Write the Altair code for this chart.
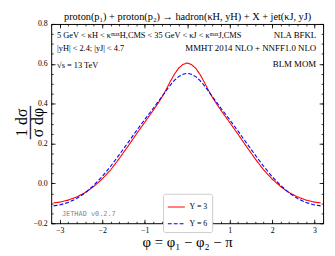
import altair as alt
import pandas as pd

phi = [-3.1416, -3.0, -2.8, -2.6, -2.4, -2.2, -2.0, -1.8, -1.6, -1.4, -1.2, -1.0,
       -0.9, -0.8, -0.7, -0.6, -0.5, -0.4, -0.3, -0.2, -0.1, 0.0,
       0.1, 0.2, 0.3, 0.4, 0.5, 0.6, 0.7, 0.8, 0.9, 1.0,
       1.2, 1.4, 1.6, 1.8, 2.0, 2.2, 2.4, 2.6, 2.8, 3.0, 3.1416]
y3 = [-0.098, -0.094, -0.084, -0.068, -0.046, -0.016, 0.022, 0.068, 0.124, 0.184, 0.246, 0.306,
      0.336, 0.366, 0.397, 0.430, 0.468, 0.510, 0.548, 0.578, 0.597, 0.604,
      0.597, 0.578, 0.548, 0.510, 0.468, 0.430, 0.397, 0.366, 0.336, 0.306,
      0.246, 0.184, 0.124, 0.068, 0.022, -0.016, -0.046, -0.068, -0.084, -0.094, -0.098]
y6 = [-0.113, -0.108, -0.096, -0.076, -0.048, -0.010, 0.034, 0.086, 0.143, 0.202, 0.262, 0.320,
      0.348, 0.376, 0.405, 0.434, 0.463, 0.492, 0.517, 0.536, 0.548, 0.552,
      0.548, 0.536, 0.517, 0.492, 0.463, 0.434, 0.405, 0.376, 0.348, 0.320,
      0.262, 0.202, 0.143, 0.086, 0.034, -0.010, -0.048, -0.076, -0.096, -0.108, -0.113]
series_names = ["Y = 3", "Y = 6"]
series_colors = ["#ff0000", "#0000ff"]

x_major = [-3, -2, -1, 0, 1, 2, 3]
x_minor = [round(-3.2 + 0.2 * i, 1) for i in range(33)]
y_major = [-0.2, 0.0, 0.2, 0.4, 0.6, 0.8]
y_minor = [round(-0.2 + 0.05 * i, 2) for i in range(21)]

title_text = "proton(p\u2081) + proton(p\u2082) \u2192 hadron(\u03baH, yH) + X + jet(\u03baJ, yJ)"
left_notes = ["5 GeV < \u03baH < \u03ba\u1d50\u1d43\u02e3H,CMS < 35 GeV < \u03baJ < \u03ba\u1d50\u1d43\u02e3J,CMS",
              "|yH| < 2.4;   |yJ| < 4.7",
              "\u221as = 13 TeV"]
right_notes = ["NLA BFKL", "MMHT 2014 NLO + NNFF1.0 NLO", "BLM MOM"]
watermark = "JETHAD v0.2.7"

rows = []
for name, vals in zip(series_names, [y3, y6]):
    for p, v in zip(phi, vals):
        rows.append({"phi": p, "val": v, "series": name})
df = pd.DataFrame(rows)

SERIF = "Liberation Serif, DejaVu Serif, serif"
xs = alt.Scale(domain=[-3.2, 3.2], nice=False, zero=False)
ys = alt.Scale(domain=[-0.2, 0.8], nice=False, zero=False)

def ax(orient, values, size, labels=False, **kw):
    return alt.Axis(orient=orient, values=values, tickSize=size, offset=-size,
                    domain=False, grid=False, labels=labels, tickColor="black",
                    tickWidth=0.8, **kw)

leg = dict(title=None, orient="none", legendX=114, legendY=173,
           labelFont=SERIF, labelFontSize=8, symbolType="stroke",
           symbolSize=300, symbolStrokeWidth=1.2, padding=4,
           strokeColor="#cccccc", fillColor="white",
           cornerRadius=2, rowPadding=3, labelColor="black")

base = alt.Chart(df)

lines = base.mark_line(strokeWidth=1.1, clip=True).encode(
    x=alt.X("phi:Q", scale=xs, axis=ax("bottom", x_major, 4, labels=True, format="d",
             labelFont=SERIF, labelFontSize=8, labelPadding=3, labelColor="black",
             title="\u03c6 = \u03c6\u2081 \u2212 \u03c6\u2082 \u2212 \u03c0", titleFont=SERIF,
             titleFontSize=15, titleFontWeight="normal", titlePadding=1, titleColor="black")),
    y=alt.Y("val:Q", scale=ys, axis=ax("left", y_major, 4, labels=True, format=".1f",
             labelFont=SERIF, labelFontSize=8, labelPadding=4, labelColor="black",
             title=["1 d\u03c3", "\u2500\u2500\u2500", "\u03c3 d\u03c6"], titleFont=SERIF,
             titleFontSize=16, titleFontWeight="normal", titleColor="black",
             titleLineHeight=8, titleAngle=270, titleX=-34, titleY=100,
             titleAlign="center", titleBaseline="middle")),
    color=alt.Color("series:N", scale=alt.Scale(domain=series_names, range=series_colors),
                    legend=alt.Legend(**leg)),
    strokeDash=alt.StrokeDash("series:N", scale=alt.Scale(domain=series_names, range=[[1, 0], [4, 2]]),
                              legend=alt.Legend(**leg)),
)

def ghost(xo, xv, xs_, yo, yv, ys_):
    return base.mark_line(opacity=0).encode(
        x=alt.X("phi:Q", scale=xs, axis=ax(xo, xv, xs_, title=None)),
        y=alt.Y("val:Q", scale=ys, axis=ax(yo, yv, ys_, title=None)),
        detail="series:N",
    )

minor_bl = ghost("bottom", x_minor, 2, "left", y_minor, 2)
major_tr = ghost("top", x_major, 4, "right", y_major, 4)
minor_tr = ghost("top", x_minor, 2, "right", y_minor, 2)

def note(s, x, y, align, size, font=SERIF, color="black", baseline="middle"):
    return alt.Chart(pd.DataFrame({"t": [s]})).mark_text(
        align=align, baseline=baseline, font=font, fontSize=size, color=color
    ).encode(text="t:N", x=alt.value(x), y=alt.value(y))

texts = [note(title_text, 139, -4.5, "center", 10.5, baseline="alphabetic")]
texts += [note(s, 6, yy, "left", 8.5) for s, yy in zip(left_notes, [11, 25, 42])]
texts += [note(s, 270, yy, "right", 9) for s, yy in zip(right_notes, [11, 25, 41])]
texts.append(note(watermark, 11, 194, "left", 7, font="DejaVu Sans Mono", color="#888888"))

chart = alt.layer(lines, minor_bl, major_tr, minor_tr, *texts).resolve_axis(
    x="independent", y="independent").properties(
    width=277, height=203,
    autosize=alt.AutoSizeParams(type="none"),
    padding={"left": 44, "top": 14, "right": 4, "bottom": 25},
).configure_view(stroke="black", strokeWidth=1)

chart.save("out.html", embed_options={"renderer": "svg", "actions": False})
